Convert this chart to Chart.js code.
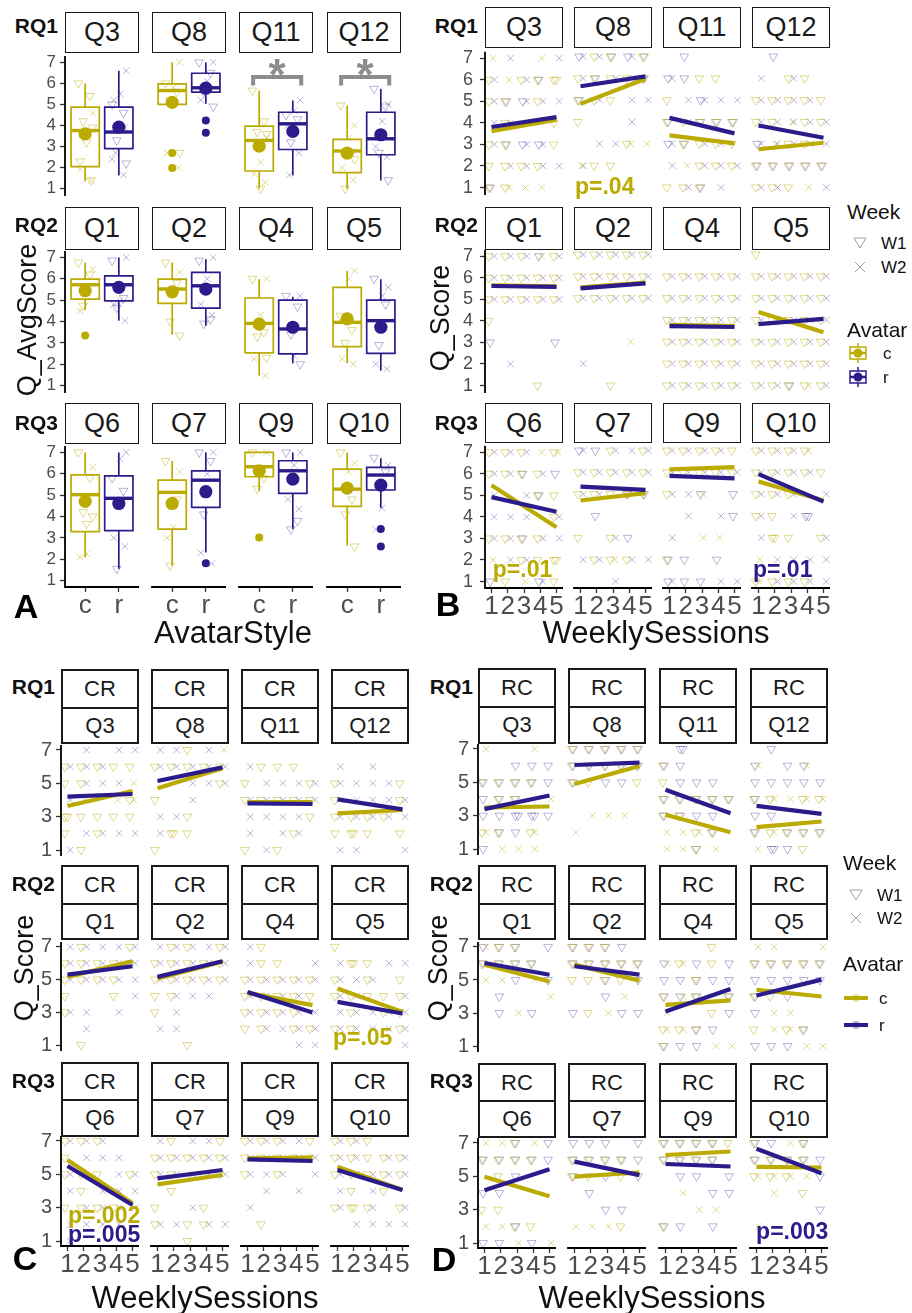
<!DOCTYPE html>
<html>
<head>
<meta charset="utf-8">
<script src="https://cdn.jsdelivr.net/npm/chart.js@4.4.1/dist/chart.umd.min.js"></script>
<style>
  body { margin: 0; background: #fff; width: 912px; height: 1313px; position: relative; overflow: hidden;
         font-family: Arial, "Liberation Sans", Helvetica, sans-serif; }
  canvas { position: absolute; }
  .strip { position: absolute; box-sizing: border-box; background: #fff; color: #1a1a1a;
           display: flex; align-items: center; justify-content: center; line-height: 1; }
</style>
</head>
<body>
<script>
// ---------- data ----------
const rqRows = ['RQ1', 'RQ2', 'RQ3'];
const questions = [['Q3', 'Q8', 'Q11', 'Q12'], ['Q1', 'Q2', 'Q4', 'Q5'], ['Q6', 'Q7', 'Q9', 'Q10']];
const avatarTicks = ['c', 'r'];
const sessionTicks = [1, 2, 3, 4, 5];
const scoreTicksAB = [1, 2, 3, 4, 5, 6, 7];
const scoreTicksCD = [1, 3, 5, 7];

// panel A boxplots: [lower whisker, q1, median, q3, upper whisker]
const boxC = {
  Q3: [1.35, 2.05, 3.76, 4.87, 6.0], Q8: [5.0, 5.0, 5.66, 5.98, 7.0], Q11: [1.0, 1.84, 3.29, 3.97, 5.66], Q12: [1.0, 1.76, 2.79, 3.34, 4.95],
  Q1: [4.54, 5.05, 5.72, 5.98, 6.76], Q2: [3.38, 4.85, 5.52, 5.98, 6.76], Q4: [1.47, 2.53, 3.91, 5.1, 5.98], Q5: [2.04, 2.82, 3.96, 5.6, 6.37],
  Q6: [2.09, 3.29, 5.02, 5.95, 7.0], Q7: [1.7, 3.41, 5.13, 5.7, 6.6], Q9: [5.2, 5.86, 6.33, 7.0, 7.0], Q10: [2.64, 4.47, 5.28, 6.22, 7.0]
};
const boxR = {
  Q3: [1.63, 2.9, 3.69, 4.87, 6.6], Q8: [5.03, 5.58, 5.79, 6.48, 7.0], Q11: [1.63, 2.86, 4.08, 4.63, 5.19], Q12: [1.39, 2.61, 3.37, 4.63, 5.74],
  Q1: [4.04, 4.97, 5.72, 6.14, 7.0], Q2: [3.8, 4.63, 5.67, 6.3, 6.92], Q4: [2.04, 2.48, 3.65, 5.0, 5.16], Q5: [1.7, 2.51, 4.04, 5.0, 5.98],
  Q6: [1.55, 3.34, 4.85, 5.9, 7.0], Q7: [2.32, 4.43, 5.7, 6.14, 7.0], Q9: [3.41, 5.08, 6.14, 6.61, 7.0], Q10: [4.4, 5.24, 5.94, 6.3, 6.73]
};
const meanC = { Q3: 3.6, Q8: 5.1, Q11: 3.02, Q12: 2.69, Q1: 5.44, Q2: 5.39, Q4: 3.88, Q5: 4.12, Q6: 4.71, Q7: 4.61, Q9: 6.14, Q10: 5.33 };
const meanR = { Q3: 3.92, Q8: 5.77, Q11: 3.72, Q12: 3.56, Q1: 5.6, Q2: 5.52, Q4: 3.73, Q5: 3.73, Q6: 4.61, Q7: 5.16, Q9: 5.75, Q10: 5.47 };
const outC = { Q8: [2.69, 1.98], Q1: [3.34], Q9: [3.02] };
const outR = { Q8: [4.24, 3.65], Q7: [1.81], Q10: [3.41, 2.6] };

// panel A individual averages (W1 = triangles, W2 = crosses)
const jitCW1 = { Q3: [6.0, 5.4, 4.2, 3.9, 3.2, 2.3, 1.4], Q8: [6.0, 5.6, 5.2, 2.7], Q11: [5.66, 4.2, 3.7, 3.6, 1.0], Q12: [4.95, 2.75, 1.0, 2.4],
  Q1: [6.76, 6.2, 4.74], Q2: [6.76, 5.8, 4.0, 3.34], Q4: [6.0, 3.5, 3.3, 2.3], Q5: [4.27, 3.6, 3.0],
  Q6: [7.0, 5.8, 4.2, 4.0, 3.65], Q7: [6.6, 4.8, 1.7], Q9: [7.0, 5.8, 5.3], Q10: [7.0, 4.8, 4.1, 2.6] };
const jitCW2 = { Q3: [4.6, 3.7, 1.9, 1.4], Q8: [7.0, 5.8, 2.7, 2.0], Q11: [3.4, 2.26, 1.7, 1.3], Q12: [4.0, 3.4, 2.0, 1.4],
  Q1: [6.45, 5.6, 4.5], Q2: [6.3, 5.3], Q4: [6.0, 4.3, 2.25, 1.47], Q5: [6.37, 6.0, 2.25, 2.0],
  Q6: [6.3, 2.25, 2.1], Q7: [6.1, 3.5, 3.0], Q9: [7.0, 3.0], Q10: [6.5, 6.1] };
const jitRW1 = { Q3: [5.0, 4.6, 3.3, 2.2], Q8: [7.0, 6.5, 5.6, 4.9], Q11: [4.5, 4.3, 3.2], Q12: [5.74, 4.9, 2.7, 1.4],
  Q1: [6.85, 5.1, 4.65], Q2: [6.85, 4.1, 3.9], Q4: [5.2, 4.7, 3.4, 2.0], Q5: [6.0, 4.8, 2.9],
  Q6: [5.8, 5.2, 1.55], Q7: [7.0, 6.6, 4.1], Q9: [7.0, 3.8, 3.4], Q10: [6.75, 6.1] };
const jitRW2 = { Q3: [6.6, 5.5, 5.2, 3.9, 2.7, 2.4, 1.65], Q8: [7.0, 6.1, 5.2], Q11: [5.2, 4.7, 4.0, 2.7, 1.65], Q12: [5.0, 4.2, 3.0, 2.5],
  Q1: [7.0, 4.97, 4.8, 4.04], Q2: [7.0, 6.0, 4.8, 4.3], Q4: [5.2, 2.4], Q5: [5.6, 5.2, 2.0, 1.78],
  Q6: [7.0, 6.7, 3.0, 2.6], Q7: [7.0, 6.0, 2.3, 1.8], Q9: [7.0, 6.4, 4.8, 4.35], Q10: [6.4, 4.4, 3.4] };

// panels B-D raw scores: one string per score 7..1, one cell per session 1..5
// v = c/W1, x = c/W2, V = r/W1, X = r/W2, . = none
const gridB = {
  Q3: ['x X . x X', 'Xv x vX Vv vv', 'vX vV XV vX X', 'X vX . . v', 'Xv vV VX VX v', 'v vX vX vX X', 'Vv vx x x .'],
  Q8: ['VX vX vV XV vV', 'vX vV vX vX vV', 'vV vX v X X', 'v . . X .', '. X X vx x', 'Xx v v . .', '. . . . .'],
  Q11: ['. V . . .', 'VX V v v .', 'v X XV X X', 'vV vX vV vV vV', 'XV vV vX vX v', 'X x vX vX vX', 'v vX vV X .'],
  Q12: ['. V . . .', 'X . vX v .', 'vX vX vX vX v', 'vX vX xX vX vX', 'XV xX vX vX X', 'vV vV vV vV vV', 'vX vX v x X'],
  Q1: ['vX vX vX Vx vX', 'vX vX vX vX vX', 'vX vX vX vX vX', 'v . . . .', 'V . . . V', '. X . . .', '. . . v .'],
  Q2: ['vX vX vX vX vX', 'vX vX vX vX vX', 'vX vX vX vX vX', '. . . . .', '. . . x .', 'X . . . .', '. . v . .'],
  Q4: ['. . . . .', 'vX vX vX vX vX', 'vX vX vX vX vX', 'vX vX vX vX vX', 'vX vX vX vX vX', 'vX vX vX vX vX', 'vX vX vX vX vX'],
  Q5: ['v . . . .', 'vX vX vX vX vX', 'vX vX vX vX vX', 'vX vX vX vX vX', 'vX vX vX vX vX', 'vX vX vX vX vX', 'vX vX vV vx vX'],
  Q6: ['vX vX vX x vx', 'vX vX vV vX V', 'X . X vV v', 'X X X . vX', 'vX vX vV vX X', 'x X vX v vv', 'V v x VX v'],
  Q7: ['VX V vX X vX', 'vX vX vX vX vX', 'vX vX v vV vV', '. V . . .', 'v . vX V .', 'X vX vx vX X', '. . X . .'],
  Q9: ['vX vX vX vX v', 'vX vX vX vX vX', 'vX X xV . V', '. X . X V', 'X . x x .', 'vV V . V .', 'VX V V X X'],
  Q10: ['vX vX vX vx .', 'vX vX vX vX v', 'vX vX vX . X', 'vX v X VV .', 'X vv v . vX', 'x X X X X', 'vx vX vX vX X']
};
const gridC = {
  Q3: ['. X . X X', 'vX Xv vX v v', 'v vX X X x', 'X x . x vx', 'vv v v v v', 'v X vX X X', 'X v . . .'],
  Q8: ['X X v X x', 'vX vX vX vX vX', '. . X X vX', 'v . X . .', 'X X v . .', 'X vv v . .', 'v . . . .'],
  Q11: ['. . . . .', 'X v v v .', 'v X X X vX', 'vX vX vX vX vX', 'X X X X v', 'X . X vX .', 'v X v . .'],
  Q12: ['. . . . .', 'X . X . .', 'vX X X X v', 'vX X X X vX', 'vX vX vX vX X', 'v vv v . v', 'X X . . X'],
  Q1: ['X vX X X vX', 'vX vX vX vX vX', 'vX vX vX vX X', 'v . . v X', 'vX X . X .', '. X . . .', '. v . . .'],
  Q2: ['X vX vX X vX', 'vX vX vX vX vX', 'vX vX vX vX vX', 'v vX X X .', 'v X . . .', 'X X . . .', '. . v . .'],
  Q4: ['X v . . .', 'X v v . X', 'vX vX vX vX vX', 'vX vX vX vX v', 'vX vX vX vX X', 'v vX X vX vX', '. . . X X'],
  Q5: ['v . . . .', 'X vv v X X', 'vX X vX . v', 'vX vX v v vX', 'X vX X vX vX', 'vX vX X X vX', '. . . . X'],
  Q6: ['vX vX vX . .', 'v X X X .', 'vX v v X vX', 'X v X X X', 'v vX vX vX X', 'X X X X .', 'X . . . .'],
  Q7: ['X v X X v', 'vX vX vX vX vX', 'vX vX X vX vX', '. v . . .', 'v . X v .', 'vX X v vX X', '. . v . .'],
  Q9: ['vX vX vX X v', 'vX vX vX vX vX', 'vX X vX . X', '. X . X .', 'X . . . .', '. v . . .', '. . . . .'],
  Q10: ['vX vX v . .', 'vX vX v vX vX', 'vX vX vX vX vX', 'X v X v .', 'vX vv vX . vX', '. X X X X', '. . . . .']
};
const gridD = {
  Q3: ['x . . x .', '. . V V V', 'vV vV vV vV V', 'V vV vV . x', 'V V VV VV V', 'vx vV V vx .', 'V x x x .'],
  Q8: ['vV vV vV vV vV', 'vV vV vV vV vV', 'vV v V V v', '. . . . .', '. x x x .', 'x . . . .', '. . . . .'],
  Q11: ['. VV . . .', 'vV V . . .', 'v V V V .', 'vV vV vV vV vV', 'vV vV V V .', 'x x vx vV .', 'x x vV x .'],
  Q12: ['. V . . .', 'Vx . V Vx .', 'V V V V V', 'vV vx x vx vx', 'V V . . .', 'vV vx vV vV vV', 'x VV V v .'],
  Q1: ['Vx vV vV . V', 'vV vV vV vV .', 'x x V x V', '. V . . x', '. V x V .', '. . . . .', '. . . . .'],
  Q2: ['Vv vV vV V .', 'vV vV vV vV vV', 'v v vV v V', '. . V x .', 'V v x V V', '. . . . .', '. . . . .'],
  Q4: ['. . . v .', 'xV vx V v V', 'V V vV V V', 'vV xV vV . vV', 'x . . v V', 'vx vx vV V .', 'vV V V x x'],
  Q5: ['x x . . x', 'vV vV vV vV vV', 'V V V V V', 'vV v V . .', 'V x x . .', 'v x vx vV .', 'V V V x x'],
  Q6: ['x x vV x V', 'vV vV vV vV V', '. v V . .', 'V V . . .', 'v v . . .', 'x x vV v .', 'V V x V x'],
  Q7: ['V V V . V', 'vV vV vV vV V', 'vV v V v V', '. V . . .', '. . V V .', 'x x x v .', '. . . . .'],
  Q9: ['vV vV vV vV v', 'vV vV vV vV .', '. V V . V', '. x . V V', '. . x x .', 'vV V . V .', '. . . . .'],
  Q10: ['vV V x vV .', 'vV vV vV vV V', 'vx vx vx x V', '. x . v .', '. . . . V', 'x . . . .', '. . . . .']
};

// fitted lines: score at session 1 and session 5
const lineBc = { Q3: [3.61, 4.15], Q8: [4.83, 5.98], Q11: [3.39, 3.02], Q12: [2.75, 3.05], Q1: [5.65, 5.6], Q2: [5.5, 5.72],
  Q4: [3.78, 3.72], Q5: [4.37, 3.44], Q6: [5.47, 3.52], Q7: [4.71, 5.05], Q9: [6.14, 6.24], Q10: [5.58, 4.71] };
const lineBr = { Q3: [3.81, 4.27], Q8: [5.64, 6.09], Q11: [4.19, 3.48], Q12: [3.84, 3.28], Q1: [5.62, 5.58], Q2: [5.45, 5.68],
  Q4: [3.72, 3.68], Q5: [3.81, 4.05], Q6: [4.92, 4.24], Q7: [5.35, 5.2], Q9: [5.84, 5.72], Q10: [5.92, 4.66] };
const lineCc = { Q3: [3.64, 4.54], Q8: [4.7, 5.9], Q11: [3.88, 3.88], Q12: [3.2, 3.4], Q1: [5.17, 6.12], Q2: [5.07, 6.1],
  Q4: [4.19, 3.44], Q5: [4.46, 3.03], Q6: [5.86, 3.26], Q7: [4.4, 4.96], Q9: [5.96, 6.0], Q10: [5.46, 4.06] };
const lineCr = { Q3: [4.2, 4.36], Q8: [5.14, 5.96], Q11: [3.8, 3.76], Q12: [4.04, 3.44], Q1: [5.31, 5.82], Q2: [5.17, 6.12],
  Q4: [4.25, 2.99], Q5: [3.64, 2.93], Q6: [5.5, 3.16], Q7: [4.76, 5.26], Q9: [5.9, 5.8], Q10: [5.26, 4.06] };
const lineDc = { Q3: [3.49, 3.55], Q8: [4.9, 5.98], Q11: [3.05, 2.0], Q12: [2.31, 2.65], Q1: [5.93, 4.91], Q2: [5.93, 4.96],
  Q4: [3.49, 3.76], Q5: [4.41, 4.0], Q6: [4.98, 3.8], Q7: [4.98, 5.23], Q9: [6.28, 6.49], Q10: [5.57, 5.53] };
const lineDr = { Q3: [3.39, 4.21], Q8: [6.04, 6.18], Q11: [4.55, 3.15], Q12: [3.59, 3.11], Q1: [6.03, 5.32], Q2: [5.83, 5.32],
  Q4: [3.09, 4.45], Q5: [4.06, 5.02], Q6: [4.17, 5.43], Q7: [5.88, 5.07], Q9: [5.74, 5.59], Q10: [6.65, 5.19] };

// significance annotations
const sigA = ['Q11', 'Q12'];
const pLabels = [
  { panel: 'B', q: 'Q8', text: 'p=.04', who: 'c', x: 0.66, y: 1.0, align: 'left' },
  { panel: 'B', q: 'Q6', text: 'p=.01', who: 'c', x: 1.08, y: 1.5, align: 'left' },
  { panel: 'B', q: 'Q10', text: 'p=.01', who: 'r', x: 0.66, y: 1.5, align: 'left' },
  { panel: 'C', q: 'Q5', text: 'p=.05', who: 'c', x: 0.72, y: 1.4, align: 'left' },
  { panel: 'C', q: 'Q6', text: 'p=.002', who: 'c', x: 1.03, y: 2.45, align: 'left' },
  { panel: 'C', q: 'Q6', text: 'p=.005', who: 'r', x: 1.03, y: 1.35, align: 'left' },
  { panel: 'D', q: 'Q10', text: 'p=.003', who: 'r', x: 5.42, y: 1.6, align: 'right' }
];

// ---------- styling ----------
const FONT = 'Arial, "Liberation Sans", Helvetica, sans-serif';
const COL = { c: '#BBAA00', r: '#2B1B8B' };
const FADE = { c: 'rgba(187,170,0,0.45)', r: 'rgba(43,27,139,0.33)' };
const TICK = '#4D4D4D';
const YW = 44, XH = 44, PT = 16, PR = 16;
const SHIFT = { v: -0.17, V: -0.09, x: 0.09, X: 0.17 };
const JX = [-0.2, 0.14, -0.06, 0.22, 0.04, -0.15, 0.18, -0.1];

function text(str, x, y, css, anchor) {
  const d = document.createElement('div');
  d.textContent = str;
  d.style.cssText = 'position:absolute;white-space:nowrap;line-height:1;' + css;
  d.style.left = x + 'px';
  d.style.top = y + 'px';
  const tx = anchor === 'r' ? '-100%' : anchor === 'l' ? '0' : '-50%';
  d.style.transform = `translate(${tx},-50%)` + (anchor === 'rot' ? ' rotate(-90deg)' : '');
  document.body.appendChild(d);
}

function strip(label, left, top, w, h, size, bw) {
  const d = document.createElement('div');
  d.className = 'strip';
  d.textContent = label;
  d.style.cssText += `left:${left}px;top:${top}px;width:${w}px;height:${h}px;font-size:${size}px;border:${bw}px solid #1a1a1a;`;
  document.body.appendChild(d);
}

// axis lines + text annotations, drawn from the chart's own area and scales
function notesPlugin(notes, firstCol, lastRow) {
  return {
    id: 'notes',
    afterDraw(chart) {
      const ctx = chart.ctx, a = chart.chartArea;
      ctx.save();
      ctx.strokeStyle = '#000';
      ctx.lineWidth = 1.8;
      ctx.beginPath();
      if (firstCol) { ctx.moveTo(a.left, a.top); ctx.lineTo(a.left, a.bottom + 0.9); }
      if (lastRow) { ctx.moveTo(a.left - 0.9, a.bottom); ctx.lineTo(a.right, a.bottom); }
      ctx.stroke();
      ctx.restore();
    },
    afterDatasetsDraw(chart) {
      const ctx = chart.ctx, sx = chart.scales.x, sy = chart.scales.y;
      notes.forEach(n => {
        ctx.save();
        ctx.font = n.font;
        ctx.fillStyle = n.color;
        ctx.textAlign = n.align || 'center';
        ctx.textBaseline = 'middle';
        ctx.fillText(n.text, sx.getPixelForValue(n.x), sy.getPixelForValue(n.y) + (n.dy || 0));
        ctx.restore();
      });
    }
  };
}

function facet(o) {
  const unit = (o.y1 - o.y7) / 6;
  const top = o.y7 - 0.3 * unit, bottom = o.y1 + 0.3 * unit;
  const cv = document.createElement('canvas');
  cv.width = YW + o.w + PR;
  cv.height = Math.round(PT + (bottom - top) + XH);
  cv.style.left = (o.left - YW) + 'px';
  cv.style.top = (top - PT) + 'px';
  document.body.appendChild(cv);
  new Chart(cv, {
    type: 'scatter',
    data: { datasets: o.datasets },
    options: {
      responsive: false, animation: false, events: [],
      layout: { padding: { top: PT, right: PR, left: 0, bottom: 0 } },
      plugins: { legend: { display: false }, tooltip: { enabled: false } },
      scales: {
        x: {
          type: 'linear', min: o.xMin, max: o.xMax,
          afterBuildTicks: s => { s.ticks = o.xTicks.map(v => ({ value: v })); },
          afterFit: s => { s.height = XH; },
          ticks: { display: o.lastRow, autoSkip: false, maxRotation: 0, minRotation: 0, padding: -2,
                   color: TICK, font: { size: 26, family: FONT }, callback: v => o.xLabel(v) },
          grid: { display: o.lastRow, drawOnChartArea: false, tickLength: 5, color: '#333', tickWidth: 1.3 },
          border: { display: false }
        },
        y: {
          type: 'linear', min: 0.7, max: 7.3,
          afterBuildTicks: s => { s.ticks = o.yTicks.map(v => ({ value: v })); },
          afterFit: s => { s.width = YW; },
          ticks: { display: o.firstCol, autoSkip: false, padding: o.yPad, color: TICK,
                   font: { size: o.yFont, family: FONT }, callback: v => String(v) },
          grid: { display: o.firstCol, drawOnChartArea: false, tickLength: 5, color: '#333', tickWidth: 1.3 },
          border: { display: false }
        }
      }
    },
    plugins: [notesPlugin(o.notes || [], o.firstCol, o.lastRow)]
  });
}

function pointSet(pts, ch, order) {
  const who = ch.toLowerCase() === ch ? 'c' : 'r';
  const tri = ch === 'v' || ch === 'V';
  return {
    data: pts, order: order, clip: false,
    pointStyle: tri ? 'triangle' : 'crossRot', pointRotation: tri ? 180 : 0,
    pointRadius: tri ? 5 : 4.6, pointBorderWidth: 1,
    pointBorderColor: FADE[who], pointBackgroundColor: 'rgba(0,0,0,0)'
  };
}

function gridSets(rows) {
  const sets = { v: [], x: [], V: [], X: [] };
  rows.forEach((row, i) => {
    const y = 7 - i;
    row.split(' ').forEach((cell, j) => {
      const seen = {};
      for (const ch of cell) {
        if (!sets[ch]) continue;
        seen[ch] = (seen[ch] || 0) + 1;
        sets[ch].push({ x: sessionTicks[j] + SHIFT[ch] + (seen[ch] - 1) * 0.16, y: y });
      }
    });
  });
  return Object.keys(sets).map(k => pointSet(sets[k], k, 10));
}

function fitLine(vals, who, order) {
  return { data: [{ x: 1, y: vals[0] }, { x: 5, y: vals[1] }], showLine: true, borderColor: COL[who],
           borderWidth: 4.2, pointRadius: 0, clip: false, order: order };
}

function boxSets(q) {
  const out = [];
  const groups = [['c', 1, boxC, meanC, outC, jitCW1, jitCW2], ['r', 2, boxR, meanR, outR, jitRW1, jitRW2]];
  groups.forEach(([a, x, box, mean, outl, j1, j2]) => {
    const [mn, q1, md, q3, mx] = box[q];
    const hw = 0.42;
    const seg = (pts, w) => ({ data: pts, showLine: true, borderColor: COL[a], borderWidth: w, pointRadius: 0,
                               clip: false, order: 5, borderJoinStyle: 'miter' });
    out.push(seg([{ x: x - hw, y: q1 }, { x: x + hw, y: q1 }, { x: x + hw, y: q3 }, { x: x - hw, y: q3 }, { x: x - hw, y: q1 - 0.03 }], 1.7));
    out.push(seg([{ x: x - hw, y: md }, { x: x + hw, y: md }], 3.4));
    if (mn < q1) out.push(seg([{ x: x, y: mn }, { x: x, y: q1 }], 1.7));
    if (mx > q3) out.push(seg([{ x: x, y: q3 }, { x: x, y: mx }], 1.7));
    out.push(pointSet((j1[q] || []).map((y, i) => ({ x: x + JX[i % JX.length], y: y })), a === 'c' ? 'v' : 'V', 8));
    out.push(pointSet((j2[q] || []).map((y, i) => ({ x: x + JX[(i + 3) % JX.length], y: y })), a === 'c' ? 'x' : 'X', 8));
    out.push({ data: [{ x: x, y: mean[q] }], pointRadius: 6.6, pointBackgroundColor: COL[a], pointBorderColor: COL[a],
               pointBorderWidth: 0, clip: false, order: 1 });
    out.push({ data: (outl[q] || []).map(y => ({ x: x, y: y })), pointRadius: 4, pointBackgroundColor: COL[a],
               pointBorderColor: COL[a], pointBorderWidth: 0, clip: false, order: 1 });
  });
  if (sigA.includes(q)) {
    out.push({ data: [{ x: 0.82, y: 5.9 }, { x: 0.82, y: 6.3 }, { x: 2.25, y: 6.3 }, { x: 2.25, y: 5.9 }], showLine: true,
               borderColor: '#8c8c8c', borderWidth: 4, pointRadius: 0, clip: false, order: 0, borderJoinStyle: 'miter' });
  }
  return out;
}

// ---------- layout ----------
const panels = [
  { key: 'A', lefts: [65, 152, 239, 327], w: 74, strips: [[12, 53], [207, 250], [403, 444]],
    y7: [62, 257, 452], y1: [188, 385, 580], yFont: 17, yPad: 4, rqRight: 58, rqY: [25, 224, 422] },
  { key: 'B', lefts: [485, 574, 663, 752], w: 78, strips: [[7, 48], [207, 250], [403, 443]],
    y7: [57, 255, 451], y1: [188, 386, 582], yFont: 18, yPad: 7, rqRight: 478, rqY: [25, 224, 422], grid: gridB, lc: lineBc, lr: lineBr },
  { key: 'C', lefts: [61, 151, 241, 331], w: 78, strips: [[669, 707, 744], [865, 903, 940], [1062, 1099, 1137]],
    y7: [750, 947, 1141], y1: [850, 1045, 1241], yFont: 20, yPad: 4, rqRight: 55, rqY: [686, 883, 1080], grid: gridC, lc: lineCc, lr: lineCr, top: 'CR' },
  { key: 'D', lefts: [478, 568, 659, 750], w: 78, strips: [[668, 706, 744], [865, 903, 940], [1063, 1100, 1138]],
    y7: [749, 947, 1143], y1: [849, 1046, 1243], yFont: 20, yPad: 4, rqRight: 473, rqY: [686, 883, 1080], grid: gridD, lc: lineDc, lr: lineDr, top: 'RC' }
];

panels.forEach(p => {
  questions.forEach((qs, r) => {
    text(rqRows[r], p.rqRight, p.rqY[r], 'font-size:21px;font-weight:bold;color:#111;', 'r');
    qs.forEach((q, c) => {
      const s = p.strips[r];
      if (s.length === 2) {
        strip(q, p.lefts[c], s[0], p.w, s[1] - s[0], 27, 1.6);
      } else {
        strip(p.top, p.lefts[c], s[0], p.w, s[1] - s[0] + 2, 22, 2);
        strip(q, p.lefts[c], s[1], p.w, s[2] - s[1], 22, 2);
      }
      const isA = p.key === 'A';
      const notes = [];
      if (isA && sigA.includes(q)) {
        notes.push({ x: 1.53, y: 6.75, text: '*', color: '#8c8c8c', font: `bold 44px ${FONT}`, dy: 10 });
      }
      pLabels.filter(n => n.panel === p.key && n.q === q).forEach(n => {
        notes.push({ x: n.x, y: n.y, text: n.text, color: COL[n.who], font: `bold 23px ${FONT}`, align: n.align });
      });
      facet({
        left: p.lefts[c], w: p.w, y7: p.y7[r], y1: p.y1[r],
        xMin: isA ? 0.4 : 0.6, xMax: isA ? 2.6 : 5.4,
        xTicks: isA ? [1, 2] : sessionTicks,
        xLabel: isA ? (v => avatarTicks[v - 1]) : (v => String(v)),
        yTicks: p.key === 'A' || p.key === 'B' ? scoreTicksAB : scoreTicksCD,
        yFont: p.yFont, yPad: p.yPad,
        firstCol: c === 0, lastRow: r === 2,
        notes: notes,
        datasets: isA ? boxSets(q) : gridSets(p.grid[q]).concat([fitLine(p.lc[q], 'c', 2), fitLine(p.lr[q], 'r', 1)])
      });
    });
  });
});

// axis titles and panel letters
const titleCss = 'font-size:31px;color:#111;';
text('AvatarStyle', 233, 632, titleCss);
text('WeeklySessions', 656, 632, titleCss);
text('WeeklySessions', 205, 1297, titleCss);
text('WeeklySessions', 652, 1297, titleCss);
const yTitleCss = 'font-size:27px;color:#111;';
text('Q_AvgScore', 27, 320, yTitleCss, 'rot');
text('Q_Score', 440, 318, yTitleCss, 'rot');
text('Q_Score', 24, 968, yTitleCss, 'rot');
text('Q_Score', 438, 968, yTitleCss, 'rot');
const letterCss = 'font-size:34px;font-weight:bold;color:#000;';
text('A', 26, 606, letterCss);
text('B', 448, 604, letterCss);
text('C', 25, 1258, letterCss);
text('D', 444, 1259, letterCss);

// legends
function svgAt(x, y, w, h, inner) {
  const d = document.createElement('div');
  d.style.cssText = `position:absolute;left:${x}px;top:${y}px;width:${w}px;height:${h}px;`;
  d.innerHTML = `<svg width="${w}" height="${h}" xmlns="http://www.w3.org/2000/svg">${inner}</svg>`;
  document.body.appendChild(d);
}
const triSvg = '<polygon points="2,3 14,3 8,13" fill="none" stroke="#a0a0a0" stroke-width="1"/>';
const crossSvg = '<path d="M3,3 L13,13 M13,3 L3,13" stroke="#a0a0a0" stroke-width="1"/>';
function boxGlyph(col) {
  return `<line x1="10" y1="0" x2="10" y2="20" stroke="${col}" stroke-width="1.5"/>` +
         `<rect x="2" y="4" width="16" height="12" fill="#fff" stroke="${col}" stroke-width="1.5"/>` +
         `<line x1="2" y1="10" x2="18" y2="10" stroke="${col}" stroke-width="2.5"/>` +
         `<circle cx="10" cy="10" r="4.5" fill="${col}"/>`;
}
function lineGlyph(col) {
  return `<line x1="0" y1="8" x2="24" y2="8" stroke="${col}" stroke-width="4"/>` +
         `<circle cx="12" cy="8" r="4" fill="${col}" opacity="0.35"/>`;
}
[{ x: 847, week: 211, w1: 243, w2: 267, av: 329, c: 353, r: 377, glyph: boxGlyph, gw: 20, gh: 20 },
 { x: 843, week: 862, w1: 895, w2: 918, av: 963, c: 998, r: 1025, glyph: lineGlyph, gw: 24, gh: 16 }].forEach(L => {
  text('Week', L.x, L.week, 'font-size:21px;color:#111;', 'l');
  svgAt(L.x + 5, L.w1 - 8, 16, 16, triSvg);
  text('W1', L.x + 34, L.w1, 'font-size:17px;color:#111;', 'l');
  svgAt(L.x + 5, L.w2 - 8, 16, 16, crossSvg);
  text('W2', L.x + 34, L.w2, 'font-size:17px;color:#111;', 'l');
  text('Avatar', L.x, L.av, 'font-size:21px;color:#111;', 'l');
  svgAt(L.x + 1, L.c - L.gh / 2, L.gw, L.gh, L.glyph(COL.c));
  text('c', L.x + 36, L.c, 'font-size:17px;color:#111;', 'l');
  svgAt(L.x + 1, L.r - L.gh / 2, L.gw, L.gh, L.glyph(COL.r));
  text('r', L.x + 36, L.r, 'font-size:17px;color:#111;', 'l');
});
</script>
</body>
</html>
